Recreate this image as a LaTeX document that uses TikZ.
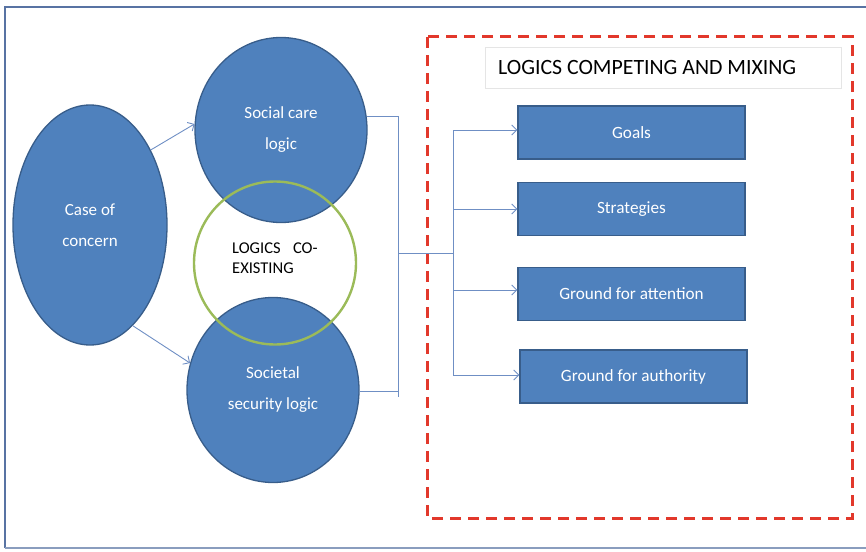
\documentclass[tikz,border=0pt]{standalone}
\usepackage{fontspec}
\setmainfont{Carlito}
\usetikzlibrary{shapes.geometric,arrows.meta,calc}
\definecolor{ofblue}{HTML}{4F81BD}
\definecolor{ofdark}{HTML}{385D8A}
\definecolor{ofgreen}{HTML}{9BBB59}
\definecolor{ofred}{HTML}{E2382B}
\definecolor{frame}{HTML}{5873A3}
\definecolor{connc}{HTML}{6F8FC4}
\tikzset{
  blob/.style={ellipse, fill=ofblue, draw=ofdark, line width=1.3pt, inner sep=0pt,
    text=white, align=center, font=\fontsize{17}{31}\selectfont},
  rbox/.style={rectangle, fill=ofblue, draw=ofdark, line width=1.3pt, inner sep=0pt,
    minimum width=227pt, minimum height=53pt, text=white, font=\fontsize{17.2}{20}\selectfont},
  conn/.style={draw=connc, line width=0.9pt},
  arr/.style={conn, -{Straight Barb[length=5pt,width=10pt]}},
}
\begin{document}
\begin{tikzpicture}[x=1pt,y=-1pt]
\useasboundingbox (0,0) rectangle (866,551);
% outer frame
\draw[frame, line width=2.2pt] (5,548) -- (5,7) -- (872,7);
\draw[frame!70, line width=1.5pt] (5,548) -- (872,548);
% red dashed container
\draw[ofred, line width=3pt, dash pattern=on 11pt off 7pt] (427,37) rectangle (852,518);
% title box
\node[draw=black!10, fill=white, minimum width=356pt, minimum height=41pt, inner sep=0pt, anchor=center] (title) at (663,67.5) {};
\node[anchor=west, font=\fontsize{21.8}{26}\selectfont, inner sep=0pt] (titletext) at (498,68) {LOGICS COMPETING AND MIXING};
% ellipses
\node[blob, minimum width=154pt, minimum height=240pt] (case) at (90,225) {Case of\\concern};
\node[blob, minimum width=172pt, minimum height=185pt] (sc) at (281,130) {Social care\\logic};
\node[blob, minimum width=172pt, minimum height=185pt] (ss) at (273,390) {Societal\\security logic};
\node[ellipse, draw=ofgreen, line width=2.4pt, minimum width=162pt, minimum height=163pt, inner sep=0pt] (co) at (275,263) {};
\node[anchor=north west, align=left, inner sep=0pt, font=\fontsize{16.5}{20}\selectfont] (cotext) at (232,243) {LOGICS\hspace{0.75em}CO-\\EXISTING};
% arrows from case
\draw[arr] (case.51) -- (sc.176);
\draw[arr] (case.-67) -- (ss.162);
% boxes
\node[rbox] (goals) at (631.5,132.5) {Goals};
\node[rbox] (strat) at (631.5,209) {Strategies};
\node[rbox] (attn) at (631.5,294) {Ground for attention};
\node[rbox] (auth) at (633.5,376.5) {Ground for authority};
% connectors
\coordinate (busT) at (398,116);
\coordinate (busB) at (398,397);
\coordinate (busM) at (398,253);
\coordinate (splitM) at (453,253);
\coordinate (splitT) at (453,130);
\coordinate (splitB) at (453,375);
\draw[conn] (sc.9) -- (sc.9 -| busT);
\draw[conn] (busT) -- (busB);
\draw[conn] (ss.-1) -- (ss.-1 -| busB);
\draw[conn] (busM) -- (splitM);
\draw[conn] (splitT) -- (splitB);
\draw[arr] (splitT) -- (splitT -| goals.west);
\draw[arr] (strat.west -| splitT) -- (strat.west);
\draw[arr] ($(attn.west -| splitT)+(0,-4)$) coordinate (a3) -- (a3 -| attn.west);
\draw[arr] (splitB) -- (splitB -| auth.west);
\end{tikzpicture}
\end{document}
